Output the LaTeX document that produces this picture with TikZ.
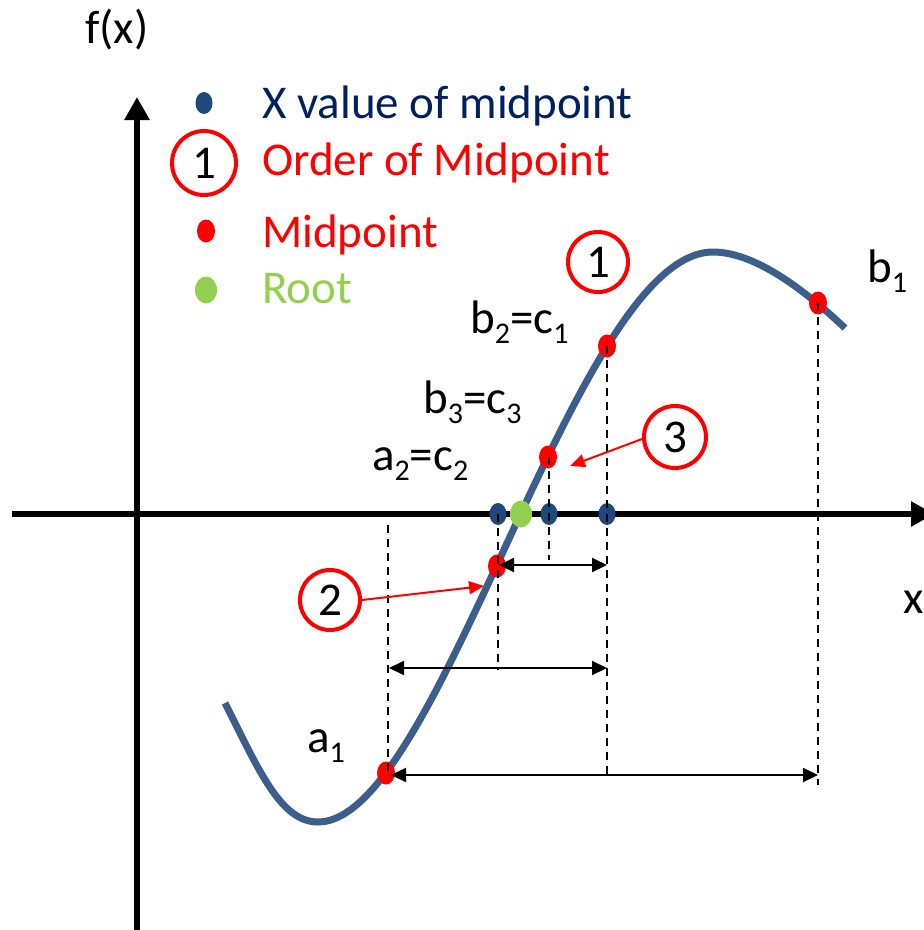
\documentclass[tikz,border=0pt]{standalone}
\usepackage{fontspec}
\setmainfont{Carlito}
\usetikzlibrary{arrows.meta,shapes.geometric}
\definecolor{curveblue}{RGB}{59,94,140}
\definecolor{dotblue}{RGB}{31,73,125}
\definecolor{navytext}{RGB}{0,32,96}
\definecolor{rootgreen}{RGB}{146,208,80}
\definecolor{pred}{RGB}{255,0,0}
\newcommand\subs[1]{\raisebox{-10pt}{\fontsize{30}{30}\selectfont #1}}
\begin{document}
\begin{tikzpicture}[x=1pt,y=-1pt,
  lbl/.style={font=\fontsize{47}{50}\selectfont, inner sep=0pt, anchor=base west},
  axis/.style={line width=6pt, -{Triangle[length=23pt,width=24pt]}},
  fcurve/.style={line width=7pt, curveblue},
  bdot/.style={ellipse, fill=dotblue, inner sep=0pt, minimum width=17pt, minimum height=22pt},
  rdot/.style={ellipse, fill=pred, inner sep=0pt, minimum width=18pt, minimum height=23pt},
  gdot/.style={ellipse, fill=rootgreen, inner sep=0pt, minimum width=22pt, minimum height=27pt},
  ring/.style={circle, draw=pred, line width=4pt, inner sep=0pt, font=\fontsize{47}{50}\selectfont},
  dline/.style={line width=2pt, dash pattern=on 8pt off 6pt},
  dim/.style={line width=2pt, {Triangle[length=15pt,width=14pt]}-{Triangle[length=15pt,width=14pt]}},
  rarrow/.style={line width=2pt, pred, -{Triangle[length=15pt,width=13pt]}}]
\useasboundingbox (0,0) rectangle (924,930);

% axes
\coordinate (xl) at (12,514);
\coordinate (xr) at (934,514);
\coordinate (yb) at (137,935);
\coordinate (yt) at (137,97);
\draw[axis] (xl) -- (xr);
\draw[axis] (yb) -- (yt);
\node[lbl] (fxl) at (85,43) {f(x)};
\node[lbl] (xlab) at (903,613) {x};

% curve
\draw[fcurve] (225,703) .. controls (258,768) and (280,822) .. (318,822)
  .. controls (441,822) and (575,252) .. (713,252)
  .. controls (760,252) and (815,300) .. (845,328);

% dots on curve
\node[rdot] (a1) at (386,773) {};
\node[rdot] (m2) at (497,566) {};
\node[rdot] (m3) at (548,457) {};
\node[rdot] (m1) at (607,346) {};
\node[rdot] (b1) at (818,303) {};
% dots on axis
\node[bdot] (x2) at (498,514) {};
\node[bdot] (x3) at (549,514) {};
\node[bdot] (x1) at (607,514) {};
\node[gdot] (root) at (521,514) {};

% dashed lines
\coordinate (a1top) at (388,525);
\coordinate (a1bot) at (388,773);
\coordinate (x2bot) at (498,670);
\coordinate (x3top) at (549,457);
\coordinate (x3bot) at (549,560);
\coordinate (x1bot) at (607,775);
\coordinate (b1bot) at (818,785);
\draw[dline] (a1top) -- (a1bot);
\draw[dline] (x2.center) -- (x2bot);
\draw[dline] (x3top) -- (x3bot);
\draw[dline] (m1.center) -- (x1bot);
\draw[dline] (b1.center) -- (b1bot);

% interval arrows
\coordinate (i1l) at (391,775);
\coordinate (i1r) at (818,775);
\coordinate (i2l) at (389,668);
\coordinate (i2r) at (607,668);
\coordinate (i3l) at (499,565);
\coordinate (i3r) at (607,565);
\draw[dim] (i1l) -- (i1r);
\draw[dim] (i2l) -- (i2r);
\draw[dim] (i3l) -- (i3r);

% order circles
\node[ring, minimum size=60pt] (c1) at (598,262) {1};
\node[ring, minimum size=62pt] (c3) at (675,437) {3};
\node[ring, minimum size=60pt] (c2) at (330,600) {2};
\coordinate (t3) at (570,466);
\coordinate (t2) at (484,586);
\draw[rarrow] (c3.west) ++(0,2) -- (t3);
\draw[rarrow] (c2.east) -- (t2);

% labels
\node[lbl] (lb1) at (867,282) {b\subs{1}};
\node[lbl] (lb2) at (470,333) {b\subs{2}=c\subs{1}};
\node[lbl] (lb3) at (423,413) {b\subs{3}=c\subs{3}};
\node[lbl] (la2) at (372,470) {a\subs{2}=c\subs{2}};
\node[lbl] (la1) at (307,752) {a\subs{1}};

% legend
\node[bdot] (lgb) at (204,103) {};
\node[lbl, text=navytext] (lgbt) at (262,118) {X value of midpoint};
\node[ring, minimum size=64pt] (lgc) at (204,163) {1};
\node[lbl, text=pred] (lgct) at (262,175) {Order of Midpoint};
\node[rdot] (lgr) at (206,231) {};
\node[lbl, text=pred] (lgrt) at (262,247) {Midpoint};
\node[gdot] (lgg) at (206,290) {};
\node[lbl, text=rootgreen] (lggt) at (262,303) {Root};
\end{tikzpicture}
\end{document}
